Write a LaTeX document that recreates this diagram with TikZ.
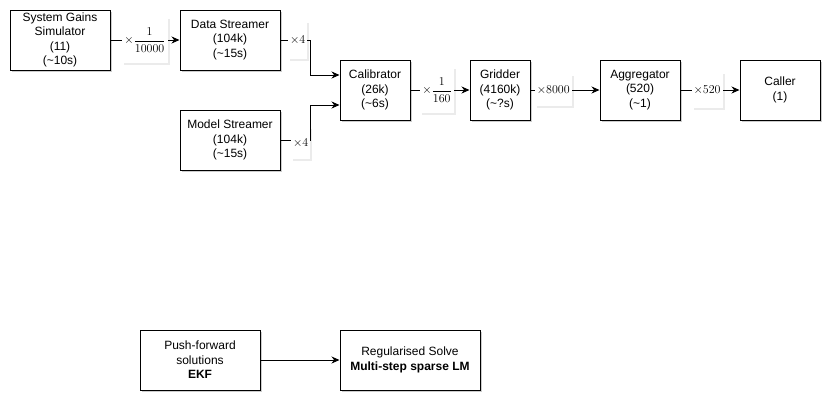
\documentclass[tikz,border=0pt]{standalone}
\usepackage{amsmath}
\usepackage[no-math]{fontspec}
\setmainfont{Liberation Sans}
\usetikzlibrary{arrows.meta,shadows,positioning}

\begin{document}
\begin{tikzpicture}[x=1pt,y=-1pt]
			\tikzstyle{Stage}	= [rectangle, draw=black, line width=1pt, fill=white, align=center, inner sep=0pt, minimum height=60pt, font=\fontsize{12}{14.5}\selectfont, drop shadow={shadow xshift=2pt, shadow yshift=-2pt, fill=black, opacity=0.2}]
			\tikzstyle{Rate}	= [fill=white, inner sep=2pt, font=\fontsize{13}{15}\selectfont, drop shadow={shadow xshift=2pt, shadow yshift=-2pt, fill=black, opacity=0.08}]
			\tikzstyle{Flow}	= [-{Stealth[length=8pt,width=7pt]}, line width=1pt]

			\useasboundingbox (0,0) rectangle (837,407);

			% upper pipeline
			\node (sgs) at (60,40) [Stage, minimum width=100pt] {System Gains\\Simulator\\(11)\\(\textasciitilde10s)};
			\node (ds) at (230,40) [Stage, minimum width=100pt] {Data Streamer\\(104k)\\(\textasciitilde15s)};
			\node (ms) at (230,140) [Stage, minimum width=100pt] {Model Streamer\\(104k)\\(\textasciitilde15s)};
			\node (cal) at (375,90) [Stage, minimum width=70pt] {Calibrator\\(26k)\\(\textasciitilde6s)};
			\node (grid) at (500,90) [Stage, minimum width=60pt] {Gridder\\(4160k)\\(\textasciitilde?s)};
			\node (agg) at (640,90) [Stage, minimum width=80pt] {Aggregator\\(520)\\(\textasciitilde1)};
			\node (call) at (780,90) [Stage, minimum width=80pt] {Caller\\(1)};

			\draw [Flow] (sgs) -- node [Rate, minimum height=46pt] {$\times\dfrac{1}{10000}$} (ds);
			\draw [Flow] (ds.east) -- node [Rate, pos=0.57, minimum height=38pt] {$\times4$} ++(30,0) |- ([yshift=15pt]cal.west);
			\draw [Flow] (ms.east) -- node [Rate, pos=0.67, yshift=-3pt, minimum height=32pt] {$\times4$} ++(30,0) |- ([yshift=-15pt]cal.west);
			\draw [Flow] (cal) -- node [Rate, pos=0.45, minimum height=46pt] {$\times\dfrac{1}{160}$} (grid);
			\draw [Flow] (grid) -- node [Rate, pos=0.33, minimum height=32pt] {$\times8000$} (agg);
			\draw [Flow] (agg) -- node [Rate, pos=0.45, minimum height=36pt] {$\times520$} (call);

			% solver
			\node (pf) at (200,360) [Stage, minimum width=120pt] {Push-forward\\solutions\\\textbf{EKF}};
			\node (rs) at (410,360) [Stage, minimum width=140pt] {Regularised Solve\\\textbf{Multi-step sparse LM}};

			\draw [Flow] (pf) -- (rs);
		\end{tikzpicture}
\end{document}
